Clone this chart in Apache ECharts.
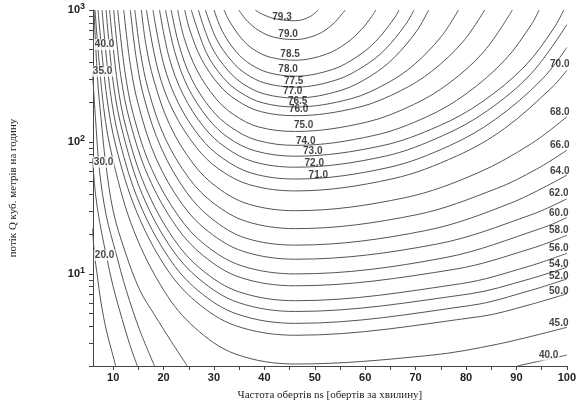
<!DOCTYPE html>
<html>
<head>
<meta charset="utf-8">
<script src="https://cdn.jsdelivr.net/npm/echarts@6/dist/echarts.min.js"></script>
<style>html,body{margin:0;padding:0;background:#fff}#c{width:579px;height:406px}</style>
</head>
<body>
<div id="c"></div>
<script>
// ---- Data: contour lines as [ns, Q] pairs ----
const c793 = [[38.2,1000],[39.2,944],[42.0,860],[46.2,829],[49.0,889],[50.7,1000]];
const c790 = [[34.9,1000],[36.7,818],[38.9,699],[41.8,623],[46.2,597],[50.5,651],[53.4,770],[55.5,941],[56.0,1000]];
const c785 = [[32.0,1000],[33.0,832],[35.5,606],[37.9,501],[41.2,438],[46.2,416],[52.2,461],[56.3,562],[59.3,715],[61.3,893],[62.1,1000]];
const c780 = [[30.0,1000],[31.7,686],[34.4,482],[37.2,389],[40.8,335],[46.2,315],[53.5,354],[58.4,443],[62.1,579],[65.8,869],[66.7,1000]];
const c775 = [[28.3,1000],[30.5,602],[33.5,411],[36.4,327],[40.3,278],[46.2,260],[54.4,296],[59.8,376],[63.9,500],[68.0,775],[69.7,1000]];
const c770 = [[26.9,1000],[29.5,528],[32.7,351],[35.8,275],[40.0,231],[46.2,215],[55.2,246],[61.2,318],[65.7,434],[70.2,692],[72.6,1000]];
const c765 = [[25.5,1000],[28.5,474],[31.8,308],[35.1,239],[39.6,198],[46.2,184],[57.1,212],[64.3,278],[69.7,385],[75.1,630],[78.5,1000]];
const c760 = [[24.2,1000],[25.2,706],[27.5,426],[31.0,271],[34.5,207],[39.2,170],[46.2,158],[58.7,183],[67.0,244],[73.2,343],[79.4,575],[83.7,1000]];
const c750 = [[22.8,1000],[24.1,610],[26.6,351],[30.3,215],[33.9,161],[38.8,130],[46.2,120],[60.2,141],[69.6,192],[76.6,278],[83.6,487],[89.2,1000]];
const c740 = [[21.5,1000],[23.1,537],[25.6,298],[29.5,176],[33.4,129],[38.5,103],[46.2,94.1],[61.8,112],[72.2,155],[80.0,231],[87.8,421],[93.0,779],[94.5,1000]];
const c730 = [[20.4,1000],[22.2,485],[24.8,261],[28.8,151],[32.8,108],[38.2,85.4],[46.2,77.9],[63.3,93.5],[74.6,132],[83.1,200],[91.7,376],[97.3,717],[99.4,1000]];
const c720 = [[19.2,1000],[21.1,437],[23.9,228],[28.1,128],[32.3,90.9],[37.8,70.8],[46.2,64.3],[63.8,77.7],[75.5,112],[84.3,173],[93.1,335],[100,774]];
const c710 = [[17.9,1000],[20.0,391],[22.9,198],[27.3,108],[31.7,75.3],[37.5,57.9],[46.2,52.3],[64.5,63.8],[76.7,93.5],[85.8,148],[95.0,296],[100,519]];
const c700 = [[16.6,1000],[18.9,350],[21.9,172],[26.5,90.9],[31.0,62.1],[37.1,47.3],[46.2,42.5],[65.3,52.4],[78.1,78.0],[87.6,126],[97.2,262],[100,349]];
const c680 = [[15.6,1000],[16.5,545],[18.1,291],[21.2,135],[25.9,68.2],[30.6,45.3],[36.8,33.8],[46.2,30.1],[67.8,37.7],[82.2,57.9],[93.0,97.2],[100,155]];
const c660 = [[14.3,1000],[15.4,480],[17.0,246],[20.2,109],[25.1,52.7],[30.0,34.1],[36.5,24.9],[46.2,22.0],[70.1,28.0],[86.0,44.2],[94.0,62.2],[100,86.4]];
const c640 = [[13.4,1000],[14.6,426],[16.2,211],[19.6,88.7],[24.6,41.3],[29.6,26.1],[36.2,18.7],[46.2,16.5],[71.8,21.2],[88.9,34.4],[100,56.0]];
const c620 = [[12.1,1000],[13.4,386],[15.1,185],[18.5,75.1],[23.7,33.7],[28.9,20.9],[35.8,14.8],[46.2,12.9],[74.2,16.8],[92.8,27.9],[100,37.0]];
const c600 = [[10.9,1000],[12.3,348],[14.0,161],[17.6,62.8],[23.0,27.2],[28.3,16.5],[35.5,11.5],[46.2,9.98],[75.6,13.2],[95.2,22.3],[100,26.7]];
const c580 = [[10.1,1000],[11.5,319],[13.3,144],[17.0,54.4],[22.5,22.9],[27.9,13.7],[35.2,9.39],[46.2,8.11],[77.6,10.8],[93.3,15.7],[100,19.6]];
const c560 = [[9.3,1000],[10.8,287],[12.6,126],[16.4,45.4],[22.0,18.4],[27.6,10.7],[35.0,7.29],[46.2,6.25],[79.1,8.43],[92.3,11.35],[100,14.3]];
const c540 = [[8.6,1000],[10.1,266],[12.0,114],[15.8,39.8],[21.5,15.7],[27.2,9.04],[34.8,6.06],[46.2,5.18],[80.6,7.03],[92.1,9.02],[100,11.2]];
const c520 = [[7.8,1000],[9.4,245],[11.3,101],[15.2,34.5],[21.0,13.3],[26.8,7.48],[34.6,4.95],[46.2,4.21],[81.1,5.77],[92.8,7.48],[100,9.15]];
const c500 = [[7.0,1000],[8.7,224],[10.6,90.9],[14.6,29.9],[20.5,11.1],[26.4,6.17],[34.3,4.04],[46.2,3.42],[82.8,4.74],[92.5,5.81],[100,7.06]];
const c450 = [[6.4,1000],[8.1,183],[10.1,69.4],[14.1,21.2],[20.2,7.33],[26.2,3.90],[34.2,2.47],[46.2,2.07],[72.9,2.41],[86.3,2.93],[100,3.93]];
const c400 = [[6.2,1000],[6.9,300],[7.6,150],[8.5,70],[10.0,30],[12.4,14.6],[15.3,7.5],[18.2,4.89],[21.5,3.08],[24.7,2.0]];
const c400b = [[90.2,2.0],[100,2.42]];
const c350 = [[5.9,340],[6.5,150],[7.3,60],[8.6,28],[10.5,14.6],[12.6,7.5],[15.2,3.8],[18.2,2.0]];
const c300 = [[5.9,75],[6.5,40],[7.3,25],[8.5,14.6],[10.0,8],[11.8,4.5],[13.3,2.9],[14.8,2.0]];
const c200 = [[5.9,22],[6.3,14],[6.8,10],[7.6,6],[8.6,3.8],[9.6,2.7],[10.5,2.0]];

const contours = [c793,c790,c785,c780,c775,c770,c765,c760,c750,c740,c730,c720,c710,c700,
  c680,c660,c640,c620,c600,c580,c560,c540,c520,c500,c450,c400,c400b,c350,c300,c200];

// contour labels [ns, Q, text]
const labelsInner = [[43.5,887,'79.3'],[44.7,650,'79.0'],[45.1,460,'78.5'],[44.7,355,'78.0'],
  [45.8,288,'77.5'],[45.6,243,'77.0'],[46.6,204,'76.5'],[46.8,178,'76.0'],[47.8,133,'75.0'],
  [48.2,102,'74.0'],[49.6,84.7,'73.0'],[49.9,68.9,'72.0'],[50.7,56.0,'71.0']];
const labelsRight = [[98.6,387,'70.0'],[98.6,169,'68.0'],[98.6,94.0,'66.0'],[98.6,60.0,'64.0'],
  [98.4,41.0,'62.0'],[98.4,28.6,'60.0'],[98.4,21.3,'58.0'],[98.4,15.6,'56.0'],[98.4,11.8,'54.0'],
  [98.4,9.62,'52.0'],[98.4,7.43,'50.0'],[98.4,4.21,'45.0']];
const labelsMasked = [[96.4,2.42,'40.0'],[8.3,547,'40.0'],[7.9,343,'35.0'],[8.1,70.2,'30.0'],[8.3,13.8,'20.0']];

const xLabelValues = [10,20,30,40,50,60,70,80,90,100];
const xTickValues = [10,15,20,25,30,35,40,45,50,55,60,65,70,75,80,85,90,95,100];
const yLabelValues = [10,100,1000];
const yTickValues = [2,3,4,5,6,7,8,9,10,20,30,40,50,60,70,80,90,100,200,300,400,500,600,700,800,900,1000];

const lineColor = '#555';
const labelFont = {fontFamily:'Liberation Sans, Arial, sans-serif', fontSize:10, fontWeight:'bold', color:'#111'};

const series = contours.map(d => ({
  type:'line', data:d, showSymbol:false, symbol:'none', smooth:0.35,
  lineStyle:{color:lineColor, width:1}, silent:true, animation:false, z:2
}));
function labelSeries(arr, masked){
  return {
    type:'scatter', data:arr.map(a => [a[0], a[1], a[2]]), symbolSize:0, silent:true, animation:false, z:5,
    label:Object.assign({show:true, position:'inside', formatter:p => p.data[2],
      backgroundColor: masked ? '#fff' : 'transparent', padding: masked ? [1,1,0,1] : 0}, labelFont)
  };
}
series.push(labelSeries(labelsInner,false), labelSeries(labelsRight,false), labelSeries(labelsMasked,true));

const chart = echarts.init(document.getElementById('c'), null, {renderer:'canvas'});
chart.setOption({
  animation:false,
  backgroundColor:'#fff',
  grid:{left:88.5, top:10, width:482, height:360, containLabel:false},
  xAxis:{
    type:'value', min:6, max:100,
    name:'Частота обертів ns [обертів за хвилину]', nameLocation:'middle', nameGap:24,
    nameTextStyle:{fontFamily:'Liberation Serif, DejaVu Serif, serif', fontSize:11, color:'#222'},
    axisLine:{show:true, lineStyle:{color:'#444', width:1}},
    axisTick:{show:true, customValues:xTickValues, length:4, lineStyle:{color:'#444'}},
    axisLabel:{customValues:xLabelValues, fontFamily:'Liberation Sans, Arial, sans-serif', fontSize:11, fontWeight:'bold', color:'#222', margin:6},
    splitLine:{show:false}
  },
  yAxis:{
    type:'log', logBase:10, min:2, max:1000,
    name:'потік Q куб. метрів на годину', nameLocation:'middle', nameGap:74, nameRotate:90,
    nameTextStyle:{fontFamily:'Liberation Serif, DejaVu Serif, serif', fontSize:11, color:'#222'},
    axisLine:{show:true, lineStyle:{color:'#444', width:1}},
    axisTick:{show:true, customValues:yTickValues, length:4, lineStyle:{color:'#444'}},
    minorTick:{show:false},
    axisLabel:{customValues:yLabelValues, margin:8,
      formatter:v => '{b|10}{s|' + Math.round(Math.log10(v)) + '}',
      rich:{
        b:{fontFamily:'Liberation Sans, Arial, sans-serif', fontSize:11, fontWeight:'bold', color:'#222'},
        s:{fontFamily:'Liberation Sans, Arial, sans-serif', fontSize:9, fontWeight:'bold', color:'#222', verticalAlign:'top', padding:[0,0,7,0]}
      }},
    splitLine:{show:false}
  },
  series:series
});
</script>
</body>
</html>
